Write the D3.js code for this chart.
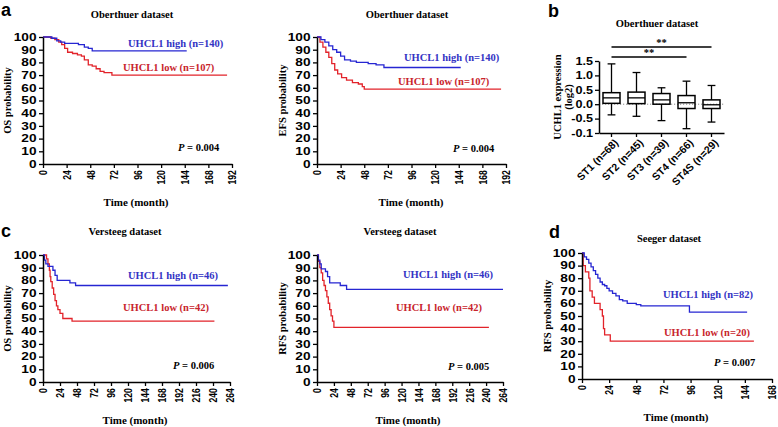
<!DOCTYPE html>
<html>
<head>
<meta charset="utf-8">
<script src="https://cdn.jsdelivr.net/npm/d3@7"></script>
<style>
  body { margin: 0; background: #fff; }
  svg { font-family: "Liberation Serif", "Times New Roman", serif; font-weight: bold; }
  .letter { font-family: "Liberation Sans", Arial, sans-serif; font-weight: bold; font-size: 18px; }
</style>
</head>
<body>
<svg id="fig" width="778" height="427"></svg>
<script>
// Kaplan-Meier steps: [month, survival %], last pair = end of follow-up
const obOsHigh = [[0,100],[9,99],[14,97],[18,96],[22,95],[36,94],[42,92],[46,91],[50,89],[146,89]];
const obOsLow = [[0,100],[8,99],[12,98],[16,96],[19,94],[22,91],[25,88],[30,87],[35,86],[39,85],[42,82],[46,78],[50,77],[54,75],[58,73],[62,72],[70,70],[187,70]];
const obEfsHigh = [[0,100],[4,98],[8,96],[12,93],[16,90],[20,88],[24,85],[28,82],[34,81],[40,80],[52,79],[60,78],[68,76],[146,76]];
const obEfsLow = [[0,100],[3,96],[6,92],[9,88],[12,84],[15,79],[18,74],[21,71],[25,68],[30,66],[36,64],[42,63],[46,61],[48,59],[187,59]];
const vsOsHigh = [[0,100],[2,96],[4,93],[7,91],[14,88],[17,84],[20,80],[38,78],[46,76],[261,76]];
const vsOsLow = [[0,100],[5,97],[7,93],[9,88],[10,83],[11,79],[13,74],[15,69],[17,64],[19,60],[21,57],[24,54],[28,50],[41,48],[242,48]];
const vsRfsHigh = [[0,100],[2,96],[4,93],[6,89],[12,87],[15,83],[18,78],[33,76],[42,73],[264,73]];
const vsRfsLow = [[0,100],[2,95],[4,90],[6,86],[8,80],[10,76],[12,72],[14,67],[16,62],[18,57],[20,52],[22,48],[24,43],[244,43]];
const sgRfsHigh = [[0,100],[2,97],[4,95],[6,92],[8,89],[10,86],[12,83],[14,80],[16,77],[18,75],[20,74],[22,72],[24,70],[27,68],[30,66],[33,63],[36,62],[40,60],[48,59],[52,58],[95,53],[146,53]];
const sgRfsLow = [[0,100],[1,90],[3,85],[6,80],[7,70],[9,65],[11,60],[16,55],[18,50],[19,40],[20,35],[25,30],[152,30]];

const yTicksKm = [0,10,20,30,40,50,60,70,80,90,100];

// box plot (panel b)
const boxCats = ["ST1 (n=68)", "ST2 (n=45)", "ST3 (n=39)", "ST4 (n=66)", "ST4S (n=29)"];
const boxMin = [-0.37, -0.42, -0.57, -0.85, -0.62];
const boxQ1 = [0.03, 0.02, 0.0, -0.15, -0.15];
const boxMed = [0.22, 0.22, 0.15, 0.05, -0.02];
const boxQ3 = [0.4, 0.42, 0.37, 0.3, 0.15];
const boxMax = [1.4, 1.1, 0.57, 0.8, 0.65];
const boxTicks = [-1, -0.5, 0, 0.5, 1, 1.5];
const boxTickLabels = ["-0.1", "-0.5", "0.0", "0.5", "1.0", "1.5"];
const sigPairs = [[0, 4], [0, 3]];

const blue = "#2626d2";
const red = "#e2232a";
const blueText = "#3333c4";
const redText = "#c8242c";

const svg = d3.select("#fig");

function styleAxis(a) {
  a.select(".domain").attr("stroke-width", 1.5);
  a.selectAll(".tick line").attr("stroke-width", 1.3);
  a.selectAll("text").style("font-size", "10.5px").style("font-weight", "bold").attr("fill", "#000");
}

function kmPanel(p) {
  const g = svg.append("g");
  const x = d3.scaleLinear().domain([0, p.xmax]).range([p.left, p.right]);
  const y = d3.scaleLinear().domain([0, 100]).range([p.bottom, p.top]);

  const line = d3.line().x(d => x(d[0])).y(d => y(d[1])).curve(d3.curveStepAfter);
  g.append("path").datum(p.low).attr("d", line)
    .attr("fill", "none").attr("stroke", red).attr("stroke-width", 1.3);
  g.append("path").datum(p.high).attr("d", line)
    .attr("fill", "none").attr("stroke", blue).attr("stroke-width", 1.3);

  // axes
  const ya = g.append("g").attr("transform", `translate(${p.left},0)`)
    .call(d3.axisLeft(y).tickValues(yTicksKm).tickSize(4).tickSizeOuter(0));
  styleAxis(ya);
  ya.selectAll("text").attr("x", -5).attr("transform", "scale(1.3,1)");
  const xa = g.append("g").attr("transform", `translate(0,${p.bottom})`)
    .call(d3.axisBottom(x).tickValues(d3.range(0, p.xmax + 1, 24)).tickSize(4).tickSizeOuter(0));
  styleAxis(xa);
  xa.selectAll("text")
    .attr("transform", "rotate(-90) scale(0.78,1)")
    .attr("x", -8).attr("y", 0).attr("dy", "0.35em")
    .style("text-anchor", "end").style("font-size", "11px");

  g.append("text").attr("x", p.titleX).attr("y", p.titleY).attr("text-anchor", "middle")
    .style("font-size", "10.5px").text(p.title);
  g.append("text").attr("x", p.xlabX).attr("y", p.xlabY).attr("text-anchor", "middle")
    .style("font-size", "11px").text("Time (month)");
  g.append("text").attr("transform", `translate(${p.ylabX},${(p.top + p.bottom) / 2}) rotate(-90)`)
    .attr("text-anchor", "middle").attr("dy", "0.35em")
    .style("font-size", "10.5px").text(p.ylabel);

  g.append("text").attr("x", p.hiX).attr("y", p.hiY).attr("dy", "0.35em")
    .attr("fill", blueText).style("font-size", "10.5px").text(p.hiText);
  g.append("text").attr("x", p.loX).attr("y", p.loY).attr("dy", "0.35em")
    .attr("fill", redText).style("font-size", "10.5px").text(p.loText);

  const pt = g.append("text").attr("x", p.pX).attr("y", p.pY).attr("dy", "0.35em")
    .style("font-size", "10.5px");
  pt.append("tspan").style("font-style", "italic").text("P");
  pt.append("tspan").text(" = " + p.pVal);
}

kmPanel({ left: 43, right: 232, top: 37, bottom: 164, xmax: 192,
  high: obOsHigh, low: obOsLow, title: "Oberthuer dataset", titleX: 132, titleY: 18,
  xlabX: 136, xlabY: 206, ylabel: "OS probability", ylabX: 7,
  hiText: "UHCL1 high (n=140)", hiX: 128, hiY: 43, loText: "UHCL1 low (n=107)", loX: 123, loY: 67,
  pVal: "0.004", pX: 178, pY: 147 });

kmPanel({ left: 317, right: 506, top: 37, bottom: 164, xmax: 192,
  high: obEfsHigh, low: obEfsLow, title: "Oberthuer dataset", titleX: 407, titleY: 18,
  xlabX: 411, xlabY: 206, ylabel: "EFS probability", ylabX: 282,
  hiText: "UHCL1 high (n=140)", hiX: 404, hiY: 57, loText: "UHCL1 low (n=107)", loX: 398, loY: 81,
  pVal: "0.004", pX: 453, pY: 148 });

kmPanel({ left: 43, right: 230, top: 255, bottom: 382, xmax: 264,
  high: vsOsHigh, low: vsOsLow, title: "Versteeg dataset", titleX: 125, titleY: 235,
  xlabX: 135, xlabY: 424, ylabel: "OS probability", ylabX: 7,
  hiText: "UHCL1 high (n=46)", hiX: 128, hiY: 275, loText: "UHCL1 low (n=42)", loX: 123, loY: 307,
  pVal: "0.006", pX: 173, pY: 365 });

kmPanel({ left: 317, right: 503, top: 255, bottom: 382, xmax: 264,
  high: vsRfsHigh, low: vsRfsLow, title: "Versteeg dataset", titleX: 400, titleY: 235,
  xlabX: 408, xlabY: 424, ylabel: "RFS probability", ylabX: 282,
  hiText: "UHCL1 high (n=46)", hiX: 403, hiY: 274, loText: "UHCL1 low (n=42)", loX: 396, loY: 307,
  pVal: "0.005", pX: 448, pY: 366 });

kmPanel({ left: 582, right: 772, top: 253, bottom: 379, xmax: 168,
  high: sgRfsHigh, low: sgRfsLow, title: "Seeger dataset", titleX: 669, titleY: 242,
  xlabX: 676, xlabY: 421, ylabel: "RFS probability", ylabX: 547,
  hiText: "UHCL1 high (n=82)", hiX: 663, hiY: 294, loText: "UHCL1 low (n=20)", loX: 664, loY: 332,
  pVal: "0.007", pX: 714, pY: 362 });

// panel b: box plot
(function () {
  const g = svg.append("g");
  const left = 599, right = 724, top = 61, bottom = 133;
  const x = d3.scaleBand().domain(boxCats).range([left, right]).paddingInner(0.32).paddingOuter(0.16);
  const y = d3.scaleLinear().domain([-1, 1.5]).range([bottom, top]);
  const bw = x.bandwidth();

  g.append("line").attr("x1", left).attr("x2", right).attr("y1", y(0)).attr("y2", y(0))
    .attr("stroke", "#888").attr("stroke-width", 1).attr("stroke-dasharray", "1.2,1.8");

  boxCats.forEach((c, i) => {
    const cx = x(c) + bw / 2;
    const bg = g.append("g").attr("stroke", "#000").attr("fill", "none");
    bg.append("line").attr("x1", cx).attr("x2", cx).attr("y1", y(boxMax[i])).attr("y2", y(boxQ3[i])).attr("stroke-width", 1.3);
    bg.append("line").attr("x1", cx).attr("x2", cx).attr("y1", y(boxQ1[i])).attr("y2", y(boxMin[i])).attr("stroke-width", 1.3);
    bg.append("line").attr("x1", cx - bw * 0.23).attr("x2", cx + bw * 0.23).attr("y1", y(boxMax[i])).attr("y2", y(boxMax[i])).attr("stroke-width", 1.3);
    bg.append("line").attr("x1", cx - bw * 0.23).attr("x2", cx + bw * 0.23).attr("y1", y(boxMin[i])).attr("y2", y(boxMin[i])).attr("stroke-width", 1.3);
    bg.append("rect").attr("x", x(c)).attr("width", bw).attr("y", y(boxQ3[i]))
      .attr("height", y(boxQ1[i]) - y(boxQ3[i])).attr("stroke-width", 1.5);
    bg.append("line").attr("x1", x(c)).attr("x2", x(c) + bw).attr("y1", y(boxMed[i])).attr("y2", y(boxMed[i])).attr("stroke-width", 1.3);
  });

  const ya = g.append("g").attr("transform", `translate(${left},0)`)
    .call(d3.axisLeft(y).tickValues(boxTicks).tickFormat((d, i) => boxTickLabels[i]).tickSize(4).tickSizeOuter(0));
  styleAxis(ya);
  ya.selectAll("text").attr("x", -5).attr("transform", "scale(1.2,1)");
  const xa = g.append("g").attr("transform", `translate(0,${bottom})`)
    .call(d3.axisBottom(x).tickSize(4).tickSizeOuter(0));
  styleAxis(xa);
  xa.selectAll("text")
    .attr("transform", "translate(3,6) rotate(-45)")
    .attr("x", 0).attr("y", 0).attr("dy", "0.6em")
    .style("text-anchor", "end");

  const sigY = [47, 57];
  sigPairs.forEach((s, i) => {
    const x1 = x(boxCats[s[0]]) + bw / 2, x2 = x(boxCats[s[1]]) + bw / 2;
    g.append("line").attr("x1", x1).attr("x2", x2).attr("y1", sigY[i]).attr("y2", sigY[i])
      .attr("stroke", "#000").attr("stroke-width", 1.3);
    g.append("text").attr("x", (x1 + x2) / 2).attr("y", sigY[i] - 1).attr("text-anchor", "middle")
      .style("font-size", "10.5px").text("**");
  });

  g.append("text").attr("x", 657).attr("y", 27).attr("text-anchor", "middle")
    .style("font-size", "10.5px").text("Oberthuer dataset");
  g.append("text").attr("transform", `translate(557,97) rotate(-90)`).attr("text-anchor", "middle")
    .attr("dy", "0.35em").style("font-size", "10.5px").text("UCHL1 expression");
  g.append("text").attr("transform", `translate(568,97) rotate(-90)`).attr("text-anchor", "middle")
    .attr("dy", "0.35em").style("font-size", "10.5px").text("(log2)");
})();

// panel letters
svg.append("text").attr("class", "letter").attr("x", 1).attr("y", 16).text("a");
svg.append("text").attr("class", "letter").attr("x", 548).attr("y", 17).text("b");
svg.append("text").attr("class", "letter").attr("x", 1).attr("y", 237).text("c");
svg.append("text").attr("class", "letter").attr("x", 549).attr("y", 238).text("d");
</script>
</body>
</html>
